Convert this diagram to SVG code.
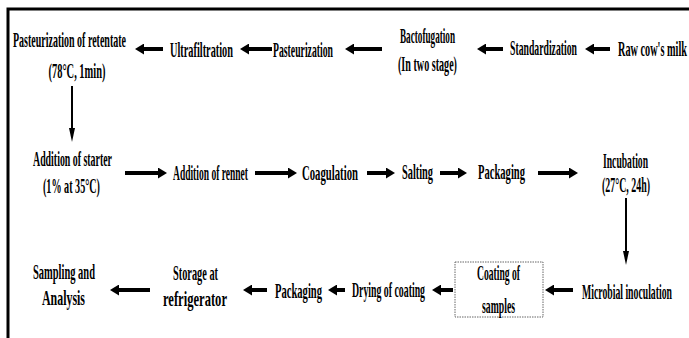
<svg xmlns="http://www.w3.org/2000/svg" width="689" height="338" viewBox="0 0 689 338">
<style>
text{font-family:"Liberation Serif","Times New Roman",serif;font-size:22px;font-weight:bold;fill:#000;text-anchor:middle}
.c{stroke:#000;stroke-width:4;fill:none}
.v{stroke:#000;stroke-width:2;fill:none}
.frame{stroke:#000;stroke-width:3;fill:none}
.box{fill:#fff;stroke:#666;stroke-width:1;stroke-dasharray:1.5 1}
</style>
<defs>
<marker id="ah" markerUnits="userSpaceOnUse" markerWidth="9" markerHeight="11" refX="0" refY="5.5" orient="auto"><path d="M0,0 L9,5.5 L0,11 z" fill="#000"/></marker>
<marker id="av" markerUnits="userSpaceOnUse" markerWidth="14" markerHeight="6" refX="0" refY="3" orient="auto"><path d="M0,0 L14,3 L0,6 z" fill="#000"/></marker>
</defs>
<g id="frame">
<path class="frame" d="M8,338 V9 H689"/>
</g>
<g id="connectors">
<line class="c" x1="163" y1="49" x2="144" y2="49" marker-end="url(#ah)"/>
<line class="c" x1="272" y1="49" x2="249" y2="49" marker-end="url(#ah)"/>
<line class="c" x1="382" y1="49" x2="354" y2="49" marker-end="url(#ah)"/>
<line class="c" x1="503" y1="49" x2="486" y2="49" marker-end="url(#ah)"/>
<line class="c" x1="610" y1="49" x2="594" y2="49" marker-end="url(#ah)"/>
<line class="v" x1="72" y1="86" x2="72" y2="128" marker-end="url(#av)"/>
<line class="c" x1="125" y1="173" x2="158" y2="173" marker-end="url(#ah)"/>
<line class="c" x1="255" y1="173" x2="288" y2="173" marker-end="url(#ah)"/>
<line class="c" x1="367" y1="173" x2="386" y2="173" marker-end="url(#ah)"/>
<line class="c" x1="440" y1="173" x2="458" y2="173" marker-end="url(#ah)"/>
<line class="c" x1="538" y1="173" x2="569" y2="173" marker-end="url(#ah)"/>
<line class="v" x1="626" y1="198" x2="626" y2="251" marker-end="url(#av)"/>
<line class="c" x1="573" y1="290" x2="554" y2="290" marker-end="url(#ah)"/>
<line class="c" x1="453" y1="290" x2="441" y2="290" marker-end="url(#ah)"/>
<line class="c" x1="345" y1="290" x2="337" y2="290" marker-end="url(#ah)"/>
<line class="c" x1="267" y1="290" x2="252" y2="290" marker-end="url(#ah)"/>
<line class="c" x1="150" y1="290" x2="119" y2="290" marker-end="url(#ah)"/>
</g>
<g id="n-pasteurization-retentate">
<text transform="scale(0.4,1)" x="173.75" y="47" textLength="282.5" lengthAdjust="spacingAndGlyphs">Pasteurization of retentate</text>
<text transform="scale(0.4,1)" x="192.5" y="78" textLength="142.5" lengthAdjust="spacingAndGlyphs">(78°C, 1min)</text>
</g>
<g id="n-ultrafiltration"><text transform="scale(0.4,1)" x="503.75" y="57" textLength="157.5" lengthAdjust="spacingAndGlyphs">Ultrafiltration</text></g>
<g id="n-pasteurization"><text transform="scale(0.4,1)" x="757.5" y="57" textLength="150" lengthAdjust="spacingAndGlyphs">Pasteurization</text></g>
<g id="n-bactofugation">
<text transform="scale(0.4,1)" x="1068.75" y="43" textLength="137.5" lengthAdjust="spacingAndGlyphs">Bactofugation</text>
<text transform="scale(0.4,1)" x="1068.75" y="71" textLength="147.5" lengthAdjust="spacingAndGlyphs">(In two stage)</text>
</g>
<g id="n-standardization"><text transform="scale(0.4,1)" x="1358.75" y="55" textLength="167.5" lengthAdjust="spacingAndGlyphs">Standardization</text></g>
<g id="n-raw-milk"><text transform="scale(0.4,1)" x="1631.25" y="56" textLength="172.5" lengthAdjust="spacingAndGlyphs">Raw cow's milk</text></g>
<g id="n-starter">
<text transform="scale(0.4,1)" x="181.25" y="166" textLength="197.5" lengthAdjust="spacingAndGlyphs">Addition of starter</text>
<text transform="scale(0.4,1)" x="178.75" y="193" textLength="142.5" lengthAdjust="spacingAndGlyphs">(1% at 35°C)</text>
</g>
<g id="n-rennet"><text transform="scale(0.4,1)" x="526.25" y="180" textLength="187.5" lengthAdjust="spacingAndGlyphs">Addition of rennet</text></g>
<g id="n-coagulation"><text transform="scale(0.4,1)" x="825" y="180" textLength="140" lengthAdjust="spacingAndGlyphs">Coagulation</text></g>
<g id="n-salting"><text transform="scale(0.4,1)" x="1043.75" y="179" textLength="77.5" lengthAdjust="spacingAndGlyphs">Salting</text></g>
<g id="n-packaging1"><text transform="scale(0.4,1)" x="1253.75" y="179" textLength="117.5" lengthAdjust="spacingAndGlyphs">Packaging</text></g>
<g id="n-incubation">
<text transform="scale(0.4,1)" x="1563.75" y="168" textLength="112.5" lengthAdjust="spacingAndGlyphs">Incubation</text>
<text transform="scale(0.4,1)" x="1565" y="192" textLength="120" lengthAdjust="spacingAndGlyphs">(27°C, 24h)</text>
</g>
<g id="n-microbial"><text transform="scale(0.4,1)" x="1567.5" y="299" textLength="225" lengthAdjust="spacingAndGlyphs">Microbial inoculation</text></g>
<g id="n-coating">
<rect class="box" x="455" y="262" width="88" height="55"/>
<text transform="scale(0.4,1)" x="1246.25" y="280" textLength="107.5" lengthAdjust="spacingAndGlyphs">Coating of</text>
<text transform="scale(0.4,1)" x="1246.25" y="313" textLength="82.5" lengthAdjust="spacingAndGlyphs">samples</text>
</g>
<g id="n-drying"><text transform="scale(0.4,1)" x="971.25" y="297" textLength="182.5" lengthAdjust="spacingAndGlyphs">Drying of coating</text></g>
<g id="n-packaging2"><text transform="scale(0.4,1)" x="746.25" y="298" textLength="117.5" lengthAdjust="spacingAndGlyphs">Packaging</text></g>
<g id="n-storage">
<text transform="scale(0.4,1)" x="488.75" y="280" textLength="112.5" lengthAdjust="spacingAndGlyphs">Storage at</text>
<text transform="scale(0.4,1)" x="487.5" y="306" textLength="160" lengthAdjust="spacingAndGlyphs">refrigerator</text>
</g>
<g id="n-sampling">
<text transform="scale(0.4,1)" x="160" y="279" textLength="155" lengthAdjust="spacingAndGlyphs">Sampling and</text>
<text transform="scale(0.4,1)" x="158.75" y="305" textLength="107.5" lengthAdjust="spacingAndGlyphs">Analysis</text>
</g>
</svg>
